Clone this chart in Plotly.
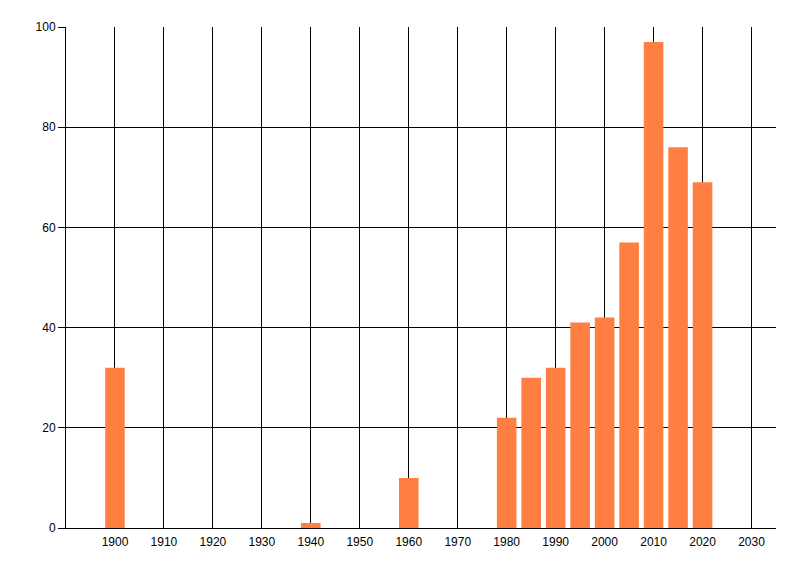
import plotly.graph_objects as go

years = [1900, 1940, 1960, 1980, 1985, 1990, 1995, 2000, 2005, 2010, 2015, 2020]
counts = [32, 1, 10, 22, 30, 32, 41, 42, 57, 97, 76, 69]
x_ticks = list(range(1900, 2031, 10))
y_ticks = [0, 20, 40, 60, 80, 100]

fig = go.Figure()
fig.add_bar(x=years, y=counts, width=4, marker=dict(color="#FF7F42", line=dict(width=0)))

# page body adds 8px offset, so margins are shifted to compensate
fig.update_layout(
    width=800, height=576,
    margin=dict(l=58, r=32, t=19, b=56),
    paper_bgcolor="white", plot_bgcolor="white",
    font=dict(family="Liberation Sans, Arial, sans-serif", size=12, color="black"),
    showlegend=False,
)
fig.update_xaxes(
    range=[1890, 2035], tickvals=x_ticks, ticks="", showgrid=True,
    gridcolor="black", gridwidth=1, showline=True, linecolor="black", linewidth=1,
    zeroline=False, ticklabelstandoff=3,
)
fig.update_yaxes(
    range=[0, 100], tickvals=y_ticks, ticks="outside", ticklen=7, tickcolor="black",
    showgrid=True, gridcolor="black", gridwidth=1, showline=True, linecolor="black",
    linewidth=1, zeroline=False,
)

fig.write_html("out.html")
